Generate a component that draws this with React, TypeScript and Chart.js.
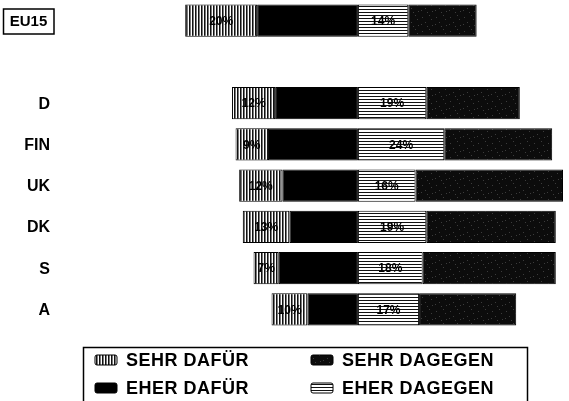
import React, { useEffect, useRef } from "react";
import { Chart, registerables } from "chart.js";

Chart.register(...registerables);

const categories = ["EU15", "", "D", "FIN", "UK", "DK", "S", "A"];
const sehrDafuer = [20, null, 12, 9, 12, 13, 7, 10];
const eherDafuer = [28, null, 23, 25, 21, 19, 22, 14];
const eherDagegen = [14, null, 19, 24, 16, 19, 18, 17];
const sehrDagegen = [19, null, 26, 30, 41, 36, 37, 27];
const seriesLabels = ["EHER DAFÜR", "SEHR DAFÜR", "EHER DAGEGEN", "SEHR DAGEGEN"];

const FONT = '"Liberation Sans", Arial, sans-serif';

function makePattern(kind: string): CanvasPattern | string {
  const c = document.createElement("canvas");
  const g = c.getContext("2d");
  if (!g) return "#888";
  if (kind === "vertical") {
    c.width = 3; c.height = 1;
    g.fillStyle = "#ffffff"; g.fillRect(0, 0, 3, 1);
    g.fillStyle = "#111111"; g.fillRect(0, 0, 1, 1);
    g.fillStyle = "#7a7a7a"; g.fillRect(1, 0, 1, 1);
  } else if (kind === "horizontal") {
    c.width = 1; c.height = 3;
    g.fillStyle = "#ffffff"; g.fillRect(0, 0, 1, 3);
    g.fillStyle = "#111111"; g.fillRect(0, 0, 1, 1);
  } else {
    c.width = 14; c.height = 14;
    g.fillStyle = "#0c0c0c"; g.fillRect(0, 0, 14, 14);
    g.fillStyle = "#3c3c3c";
    const dots = [[2, 3], [9, 1], [5, 8], [12, 11], [7, 12], [1, 10], [11, 5]];
    dots.forEach(([x, y]) => g.fillRect(x, y, 1, 1));
  }
  const p = g.createPattern(c, "repeat");
  return p || "#888";
}

export default function App() {
  const ref = useRef<HTMLCanvasElement | null>(null);

  useEffect(() => {
    if (!ref.current) return;
    const vPat = makePattern("vertical");
    const hPat = makePattern("horizontal");
    const sPat = makePattern("speckle");
    const fills: any[] = ["#000000", vPat, hPat, sPat];

    const neg = (arr: (number | null)[]) => arr.map((v) => (v == null ? null : -v));

    const segLabels = {
      id: "segLabels",
      afterDatasetsDraw(chart: any) {
        const ctx = chart.ctx;
        ctx.save();
        ctx.font = `bold 12px ${FONT}`;
        ctx.fillStyle = "#000";
        ctx.textAlign = "center";
        ctx.textBaseline = "middle";
        [1, 2].forEach((di) => {
          const meta = chart.getDatasetMeta(di);
          meta.data.forEach((el: any, i: number) => {
            const v = chart.data.datasets[di].data[i];
            if (v == null) return;
            const p = el.getProps(["x", "base", "y"], true);
            ctx.fillText(`${Math.abs(v)}%`, (p.x + p.base) / 2, p.y + 1);
          });
        });
        ctx.restore();
      },
    };

    const catLabels = {
      id: "catLabels",
      afterDraw(chart: any) {
        const ctx = chart.ctx;
        const y = chart.scales.y;
        ctx.save();
        ctx.fillStyle = "#000";
        ctx.textBaseline = "middle";
        categories.forEach((c, i) => {
          if (!c) return;
          const py = y.getPixelForValue(i);
          if (i === 0) {
            ctx.font = `bold 15px ${FONT}`;
            ctx.textAlign = "center";
            ctx.fillText(c, 28.5, py + 1);
            ctx.lineWidth = 1.5;
            ctx.strokeStyle = "#000";
            ctx.strokeRect(3.5, 9, 50.5, 25);
          } else {
            ctx.font = `bold 16px ${FONT}`;
            ctx.textAlign = "right";
            ctx.fillText(c, 50, py + 1);
          }
        });
        ctx.restore();
      },
    };

    const legendBox = {
      id: "legendBox",
      afterDraw(chart: any) {
        const ctx = chart.ctx;
        ctx.save();
        ctx.strokeStyle = "#000";
        ctx.lineWidth = 1.5;
        ctx.strokeRect(83.5, 347.5, 444, 70);
        const cells = [
          { ds: 1, x: 95, y: 360 },
          { ds: 3, x: 311, y: 360 },
          { ds: 0, x: 95, y: 388 },
          { ds: 2, x: 311, y: 388 },
        ];
        cells.forEach((c) => {
          const d = chart.data.datasets[c.ds];
          ctx.fillStyle = d.backgroundColor;
          ctx.beginPath();
          ctx.roundRect(c.x, c.y - 5, 22, 10, 2);
          ctx.fill();
          ctx.lineWidth = 1;
          ctx.stroke();
          ctx.fillStyle = "#000";
          ctx.font = `bold 18px ${FONT}`;
          ctx.textAlign = "left";
          ctx.textBaseline = "middle";
          (ctx as any).letterSpacing = "0.5px";
          ctx.fillText(d.label, c.x + 31, c.y + 1);
          (ctx as any).letterSpacing = "0px";
        });
        ctx.restore();
      },
    };

    const chart = new Chart(ref.current, {
      type: "bar",
      data: {
        labels: categories,
        datasets: [
          { label: seriesLabels[0], data: neg(eherDafuer), backgroundColor: fills[0] },
          { label: seriesLabels[1], data: neg(sehrDafuer), backgroundColor: fills[1] },
          { label: seriesLabels[2], data: eherDagegen, backgroundColor: fills[2] },
          { label: seriesLabels[3], data: sehrDagegen, backgroundColor: fills[3] },
        ].map((d) => ({
          ...d,
          borderColor: "#000",
          borderWidth: 1,
          borderSkipped: false,
          barPercentage: 0.78,
          categoryPercentage: 1,
        })) as any,
      },
      options: {
        indexAxis: "y",
        animation: false,
        responsive: false,
        layout: { padding: { left: 178, right: 6, top: 0, bottom: 71 } },
        scales: {
          x: { stacked: true, min: -50, max: 57, display: false },
          y: { stacked: true, display: false },
        },
        plugins: {
          legend: { display: false },
          tooltip: { enabled: false },
        },
      },
      plugins: [segLabels, catLabels, legendBox],
    });
    return () => chart.destroy();
  }, []);

  return (
    <div style={{ position: "absolute", left: 0, top: 0, width: 569, height: 401, background: "#fff" }}>
      <canvas ref={ref} width={569} height={401} />
    </div>
  );
}
